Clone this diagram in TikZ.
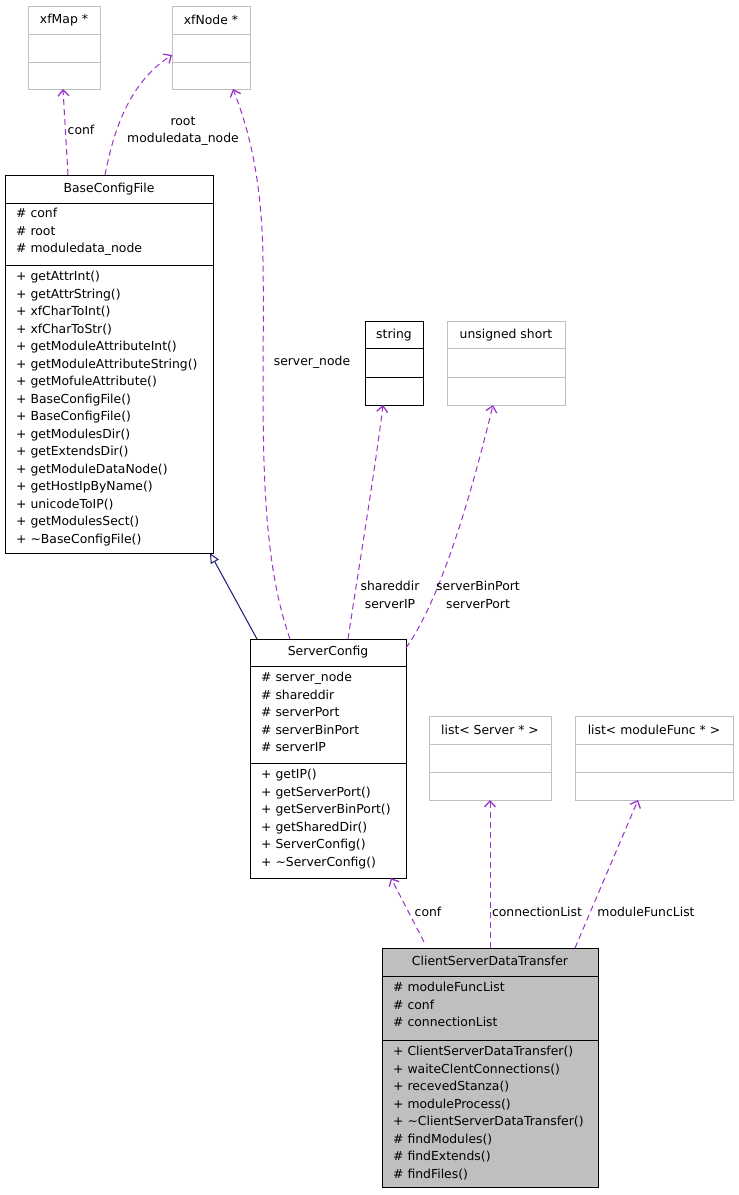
\documentclass[tikz,border=0pt]{standalone}
\usepackage{fontspec}
\setmainfont{DejaVu Sans}
\usetikzlibrary{arrows.meta}
\definecolor{edgep}{RGB}{153,51,204}
\definecolor{graybd}{RGB}{191,191,191}
\definecolor{navy}{RGB}{25,25,112}
\tikzset{
 txt/.style={font=\fontsize{12.4}{17.5}\selectfont, inner sep=0pt},
 cls/.style={draw, line width=1pt, inner sep=0pt, anchor=north west},
 dep/.style={edgep, line width=1pt, dash pattern=on 6pt off 4pt, -{Straight Barb[length=6pt,width=11pt,line width=1.3pt]}},
 inh/.style={navy, line width=1pt, -{Triangle[open,length=10pt,width=9pt]}},
 lbl/.style={txt, align=center},
 mem/.style={txt, anchor=north west, align=left},
}
\newcommand{\clsbox}[9]{% name x1 y1 x2 y2 ysep1 ysep2 color fill
 \node[cls, draw=#8, fill=#9, minimum width=#4-#2, minimum height=#5-#3] (#1) at (#2,#3) {};
 \draw[#8, line width=1pt] (#2,#6) -- (#4,#6) (#2,#7) -- (#4,#7);
}
\begin{document}
\begin{tikzpicture}[x=1pt,y=-1pt]
\useasboundingbox (0,0) rectangle (739,1195);
\fill[white] (0,0) rectangle (739,1195);
% boxes
\clsbox{xfmap}{28}{6}{100}{89}{34}{62}{graybd}{white}
\node[txt] at (64,20) {xfMap *};
\clsbox{xfnode}{172}{6}{250}{89}{34}{62}{graybd}{white}
\node[txt] at (211,20) {xfNode *};
\clsbox{bcf}{5}{175}{213}{553}{203}{265}{black}{white}
\node[txt] at (109,189) {BaseConfigFile};
\node[mem] at (16,208) {\# conf\\\# root\\\# moduledata\_node};
\node[mem] at (16,271) {+ getAttrInt()\\+ getAttrString()\\+ xfCharToInt()\\+ xfCharToStr()\\+ getModuleAttributeInt()\\+ getModuleAttributeString()\\+ getMofuleAttribute()\\+ BaseConfigFile()\\+ BaseConfigFile()\\+ getModulesDir()\\+ getExtendsDir()\\+ getModuleDataNode()\\+ getHostIpByName()\\+ unicodeToIP()\\+ getModulesSect()\\+ \textasciitilde BaseConfigFile()};
\clsbox{str}{365}{321}{423}{405}{348}{377}{black}{white}
\node[txt] at (394,335) {string};
\clsbox{ushort}{447}{321}{565}{405}{348}{377}{graybd}{white}
\node[txt] at (506,335) {unsigned short};
\clsbox{sc}{250}{639}{406}{878}{666}{763}{black}{white}
\node[txt] at (328,652) {ServerConfig};
\node[mem] at (261,672) {\# server\_node\\\# shareddir\\\# serverPort\\\# serverBinPort\\\# serverIP};
\node[mem] at (261,769) {+ getIP()\\+ getServerPort()\\+ getServerBinPort()\\+ getSharedDir()\\+ ServerConfig()\\+ \textasciitilde ServerConfig()};
\clsbox{lsrv}{429}{716}{551}{800}{744}{772}{graybd}{white}
\node[txt] at (490,730) {list< Server * >};
\clsbox{lmf}{575}{716}{733}{800}{744}{772}{graybd}{white}
\node[txt] at (654,730) {list< moduleFunc * >};
\clsbox{csdt}{382}{948}{598}{1187}{976}{1040}{black}{graybd}
\node[txt] at (490,961) {ClientServerDataTransfer};
\node[mem] at (393,982) {\# moduleFuncList\\\# conf\\\# connectionList};
\node[mem] at (393,1046) {+ ClientServerDataTransfer()\\+ waiteClentConnections()\\+ recevedStanza()\\+ moduleProcess()\\+ \textasciitilde ClientServerDataTransfer()\\\# findModules()\\\# findExtends()\\\# findFiles()};
% anchor coordinates
\coordinate (bcfA) at (68,175); \coordinate (xfmapA) at (63,89);
\coordinate (bcfB) at (105,175); \coordinate (xfnodeB) at (172,55);
\coordinate (scA) at (290,639); \coordinate (xfnodeA) at (233,89);
\coordinate (scB) at (348,639); \coordinate (strA) at (383,405);
\coordinate (scC) at (406,648); \coordinate (ushA) at (493,405);
\coordinate (scD) at (257,639); \coordinate (bcfC) at (210,553);
\coordinate (csA) at (424,942); \coordinate (scE) at (391,878);
\coordinate (csB) at (490,948); \coordinate (lsA) at (490,800);
\coordinate (csC) at (575,948); \coordinate (lmA) at (638,800);
% edges
\draw[dep] (bcfA) -- (xfmapA);
\node[lbl] at (81,130) {conf};
\draw[dep] (bcfB) .. controls (112,140) and (125,85) .. (xfnodeB);
\node[lbl] at (183,131) {root\\moduledata\_node};
\draw[dep] (scA) .. controls (255,540) and (265,400) .. (263,260) .. controls (262,170) and (245,120) .. (xfnodeA);
\node[lbl] at (312,362) {server\_node};
\draw[dep] (scB) .. controls (360,560) and (375,470) .. (strA);
\node[lbl] at (390,595) {shareddir\\serverIP};
\draw[dep] (scC) .. controls (440,600) and (470,500) .. (ushA);
\node[lbl] at (478,595) {serverBinPort\\serverPort};
\draw[inh] (scD) -- (bcfC);
\draw[dep] (csA) -- (scE);
\node[lbl] at (428,912) {conf};
\draw[dep] (csB) -- (lsA);
\node[lbl] at (537,912) {connectionList};
\draw[dep] (csC) -- (lmA);
\node[lbl] at (646,912) {moduleFuncList};
\end{tikzpicture}
\end{document}
